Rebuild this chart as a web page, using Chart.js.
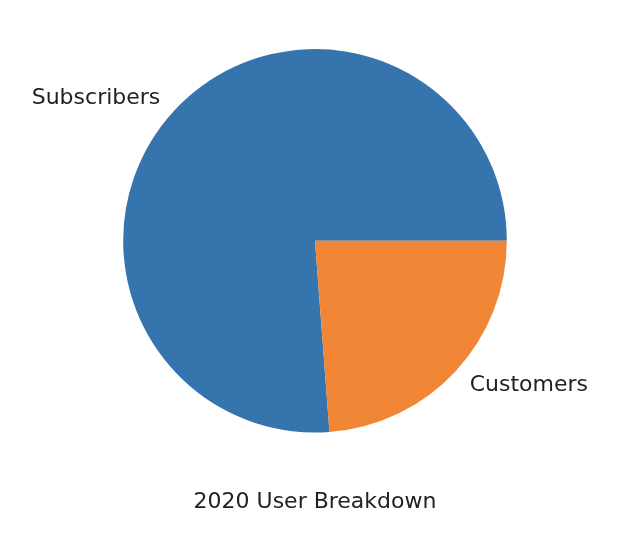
<!DOCTYPE html>
<html>
<head>
<meta charset="utf-8">
<script src="https://cdn.jsdelivr.net/npm/chart.js@4/dist/chart.umd.min.js"></script>
<style>
html,body{margin:0;padding:0;background:#fff;}
#wrap{width:630px;height:540px;}
</style>
</head>
<body>
<div id="wrap"><canvas id="c" width="630" height="540"></canvas></div>
<script>
const categories = ["Subscribers", "Customers"];
const shares = [76.2, 23.8];
const sliceColors = ["#3674ad", "#f08636"];
const chartTitle = "2020 User Breakdown";

const total = shares.reduce((a, b) => a + b, 0);
const startRotation = 90 + 360 * shares[1] / total;

const outsideLabels = {
  id: "outsideLabels",
  afterDatasetsDraw(chart) {
    const ctx = chart.ctx;
    const meta = chart.getDatasetMeta(0);
    ctx.save();
    ctx.font = "22px 'DejaVu Sans'";
    ctx.fillStyle = "#222";
    ctx.textBaseline = "middle";
    meta.data.forEach((arc, i) => {
      const p = arc.getProps(["x", "y", "startAngle", "endAngle", "outerRadius"], true);
      const mid = (p.startAngle + p.endAngle) / 2;
      const r = p.outerRadius * 1.1;
      const lx = p.x + r * Math.cos(mid);
      const ly = p.y + r * Math.sin(mid) + 1;
      ctx.textAlign = Math.cos(mid) < 0 ? "right" : "left";
      ctx.fillText(categories[i], lx, ly);
    });
    ctx.restore();
  }
};

new Chart(document.getElementById("c"), {
  type: "pie",
  data: {
    labels: categories,
    datasets: [{
      data: shares,
      backgroundColor: sliceColors,
      borderWidth: 0
    }]
  },
  options: {
    responsive: false,
    animation: false,
    rotation: startRotation,
    layout: { padding: { left: 123, right: 123, top: 49, bottom: 25 } },
    plugins: {
      legend: { display: false },
      tooltip: { enabled: false },
      title: {
        display: true,
        text: chartTitle,
        position: "bottom",
        color: "#222",
        font: { family: "'DejaVu Sans'", size: 22, weight: "normal", lineHeight: 1.2 },
        padding: { top: 56, bottom: 0 }
      }
    }
  },
  plugins: [outsideLabels]
});
</script>
</body>
</html>
